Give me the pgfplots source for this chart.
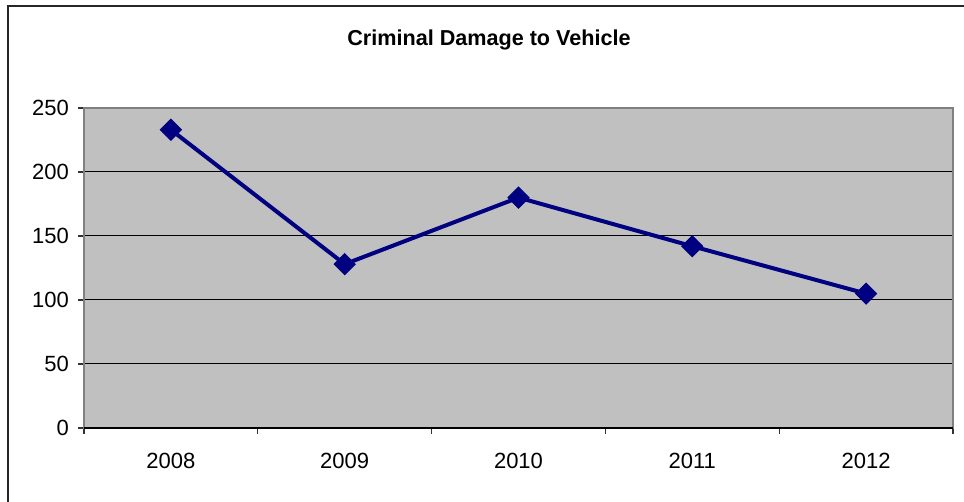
\documentclass[border=0pt]{standalone}
\usepackage{fontspec}
\setmainfont{Liberation Sans}
\usepackage{pgfplots}
\pgfplotsset{compat=1.18}

\definecolor{plotgray}{RGB}{192,192,192}
\definecolor{framegray}{RGB}{128,128,128}
\definecolor{navyline}{RGB}{0,0,128}

\begin{document}
\begin{tikzpicture}
\useasboundingbox (-42pt,-37pt) rectangle (440pt,214pt);
% outer chart frame (only top and left edges are in view)
\draw[black!85, line width=1pt] (-38pt,-37pt) -- (-38pt,211pt) -- (440pt,211pt);
\node[font=\bfseries\fontsize{10.8}{12}\selectfont] at (202.5pt,194pt) {Criminal Damage to Vehicle};

\begin{axis}[
  at={(0pt,0pt)}, anchor=south west,
  scale only axis, width=434.5pt, height=160pt,
  xmin=-0.5, xmax=4.5, ymin=0, ymax=250,
  xtick={0,1,2,3,4}, xticklabels={2008,2009,2010,2011,2012},
  minor xtick={-0.5,0.5,1.5,2.5,3.5,4.5},
  major x tick style={draw=none},
  ytick={0,50,100,150,200,250},
  tick align=outside, tick pos=left,
  major tick length=3pt, minor tick length=3pt,
  tick style={black!80, line width=0.6pt},
  ymajorgrids, grid style={black, line width=0.5pt},
  axis background/.style={fill=plotgray},
  axis line style={framegray, line width=0.9pt},
  tick label style={font=\fontsize{11}{13}\selectfont},
  /pgf/number format/assume math mode=true,
  xticklabel style={yshift=-6pt},
  yticklabel style={xshift=-1pt},
  clip=false,
]
\addplot[navyline, line width=2pt, mark=square*, mark size=3.7pt,
  mark options={rotate=45, fill=navyline, draw=navyline, line width=0.5pt}]
  coordinates {(0,233)(1,128)(2,180)(3,142)(4,105)};
\draw[black, line width=0.9pt] (axis cs:-0.5,0) -- (axis cs:4.5,0);
\end{axis}
\end{tikzpicture}
\end{document}
